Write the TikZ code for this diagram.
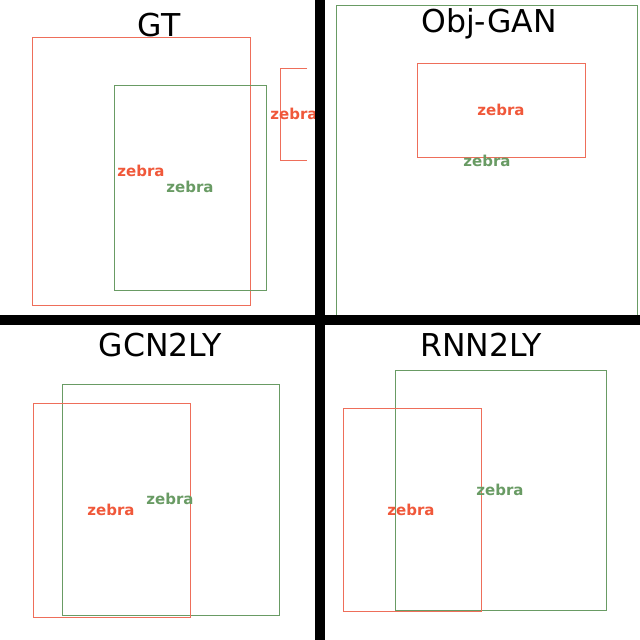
\documentclass[tikz,border=0pt]{standalone}
\usepackage{fontspec}
\setmainfont{DejaVu Sans}
\definecolor{zred}{RGB}{240,88,58}
\definecolor{zredline}{RGB}{238,110,90}
\definecolor{zgreen}{RGB}{105,155,100}
\begin{document}
\begin{tikzpicture}[x=1pt,y=-1pt,
  rbox/.style={draw=zredline,line width=1pt},
  gbox/.style={draw=zgreen,line width=1pt},
  rlab/.style={text=zred,font=\bfseries\fontsize{15}{17}\selectfont,inner sep=0pt},
  glab/.style={text=zgreen,font=\bfseries\fontsize{15}{17}\selectfont,inner sep=0pt},
  title/.style={font=\fontsize{31.5}{34}\selectfont,inner sep=0pt},
  bar/.style={fill=black,draw=none}]
\useasboundingbox[fill=white] (0,0) rectangle (640,640);
% GT
\node[title] (t1) at (159,25) {GT};
\draw[rbox] (32,37) rectangle (250,305);
\draw[gbox] (114,85) rectangle (266,290);
\draw[rbox] (307,68) -| (280,160) -- (307,160);
\node[rlab] (l1) at (141,171) {zebra};
\node[glab] (l2) at (190,187) {zebra};
\node[rlab] (l3) at (294,114) {zebra};
% Obj-GAN
\node[title] (t2) at (489,24) {Obj-GAN};
\draw[gbox] (336,5) -- (637,5) -- (637,320) (336,5) -- (336,320);
\draw[rbox] (417,63) rectangle (585,157);
\node[rlab] (l4) at (501,110) {zebra};
\node[glab] (l5) at (487,161) {zebra};
% GCN2LY
\node[title] (t3) at (160,345) {GCN2LY};
\draw[gbox] (62,384) rectangle (279,615);
\draw[rbox] (33,403) rectangle (190,617);
\node[rlab] (l6) at (111,510) {zebra};
\node[glab] (l7) at (170,499) {zebra};
% RNN2LY
\node[title] (t4) at (481,345) {RNN2LY};
\draw[gbox] (395,370) rectangle (606,610);
\draw[rbox] (343,408) rectangle (481,611);
\node[rlab] (l8) at (411,510) {zebra};
\node[glab] (l9) at (500,490) {zebra};
% separators
\fill[bar] (315,0) rectangle (325,640);
\fill[bar] (0,315) rectangle (640,325);
\end{tikzpicture}
\end{document}
